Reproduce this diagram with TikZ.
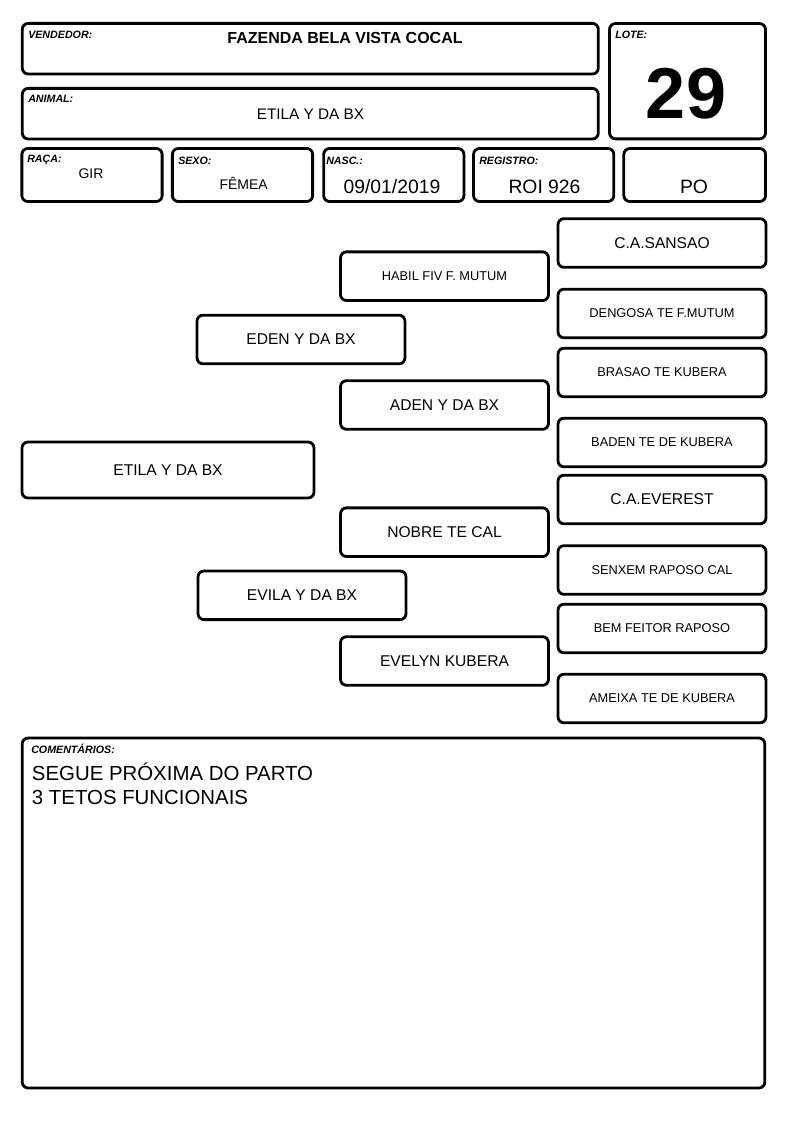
\documentclass[tikz,border=0pt]{standalone}
\usepackage{fontspec}
\setmainfont{Liberation Sans}
\begin{document}
\begin{tikzpicture}[x=0.75pt,y=-0.75pt,
   box/.style={rectangle, draw, line width=2.1pt, rounded corners=4.5pt},
   tag/.style={anchor=base west, inner sep=0pt, font=\fontsize{8}{9}\selectfont\bfseries\itshape},
   val/.style={anchor=base, inner sep=0pt},
   cell/.style={box, minimum width=105.2pt, minimum height=39.8pt},
   gena/.style={box, minimum width=219pt, minimum height=42pt, font=\fontsize{11.7}{14}\selectfont},
   genb/.style={box, minimum width=156pt, minimum height=36.5pt, font=\fontsize{11.7}{14}\selectfont},
   small/.style={font=\fontsize{9.6}{11}\selectfont}]
   \useasboundingbox (0,0) rectangle (794,1123);
   % header
   \node[box, minimum width=432pt, minimum height=38pt] (vendedor) at (310.3,48.7) {};
   \node[tag] (vendedorlbl) at (28,39) {VENDEDOR:};
   \node[val, font=\fontsize{12}{14}\selectfont\bfseries] (vendedorval) at (345,43.4) {FAZENDA BELA VISTA COCAL};
   \node[box, minimum width=432pt, minimum height=38pt] (animal) at (310.3,113.7) {};
   \node[tag] (animallbl) at (28,103) {ANIMAL:};
   \node[val, font=\fontsize{11.5}{14}\selectfont] (animalval) at (310.5,119.3) {ETILA Y DA BX};
   \node[box, minimum width=117pt, minimum height=86.5pt] (lote) at (687.5,81.2) {};
   \node[tag] (lotelbl) at (615,39) {LOTE:};
   \node[val, font=\fontsize{54}{60}\selectfont\bfseries] (loteval) at (686,119) {29};
   % second row
   \node[cell] (raca) at (92,175) {};
   \node[cell] (sexo) at (242.5,175) {};
   \node[cell] (nasc) at (393.8,175) {};
   \node[cell] (registro) at (543.7,175) {};
   \node[cell, minimum width=106.3pt] (categoria) at (694.7,175) {};
   \node[tag] (racalbl) at (27,162.7) {RAÇA:};
   \node[tag] (sexolbl) at (178,165) {SEXO:};
   \node[tag] (nasclbl) at (326,165) {NASC.:};
   \node[tag] (registrolbl) at (479,165) {REGISTRO:};
   \node[val, font=\fontsize{10.5}{12}\selectfont] (racaval) at (91,178.3) {GIR};
   \node[val, font=\fontsize{10.5}{12}\selectfont] (sexoval) at (243.7,189.3) {FÊMEA};
   \node[val, font=\fontsize{14.5}{17}\selectfont] (nascval) at (392,194) {09/01/2019};
   \node[val, font=\fontsize{14.5}{17}\selectfont] (registroval) at (544.5,193.3) {ROI 926};
   \node[val, font=\fontsize{14.5}{17}\selectfont] (categoriaval) at (694,193.3) {PO};
   % pedigree
   \node[gena] (etila) at (168,470) {ETILA Y DA BX};
   \node[genb] (eden) at (301,339.5) {EDEN Y DA BX};
   \node[genb] (evila) at (302,595.3) {EVILA Y DA BX};
   \node[genb, small] (habil) at (444.5,276.2) {HABIL FIV F. MUTUM};
   \node[genb] (aden) at (444.5,405) {ADEN Y DA BX};
   \node[genb] (nobre) at (444.5,532.2) {NOBRE TE CAL};
   \node[genb] (evelyn) at (444.5,661) {EVELYN KUBERA};
   \node[genb] (sansao) at (662,243) {C.A.SANSAO};
   \node[genb, small] (dengosa) at (662,313.5) {DENGOSA TE F.MUTUM};
   \node[genb, small] (brasao) at (662,372.5) {BRASAO TE KUBERA};
   \node[genb, small] (baden) at (662,442.5) {BADEN TE DE KUBERA};
   \node[genb] (everest) at (662,499.5) {C.A.EVEREST};
   \node[genb, small] (senxem) at (662,570) {SENXEM RAPOSO CAL};
   \node[genb, small] (bemfeitor) at (662,628.5) {BEM FEITOR RAPOSO};
   \node[genb, small] (ameixa) at (662,698.5) {AMEIXA TE DE KUBERA};
   % comments
   \node[box, minimum width=557pt, minimum height=262.5pt] (comentarios) at (393.5,913) {};
   \node[tag] (comentarioslbl) at (31,753) {COMENTÁRIOS:};
   \node[anchor=base west, inner sep=0pt, font=\fontsize{15.3}{18}\selectfont] (linha1) at (31.7,780) {SEGUE PRÓXIMA DO PARTO};
   \node[anchor=base west, inner sep=0pt, font=\fontsize{15.3}{18}\selectfont] (linha2) at (31.7,804) {3 TETOS FUNCIONAIS};
\end{tikzpicture}
\end{document}
